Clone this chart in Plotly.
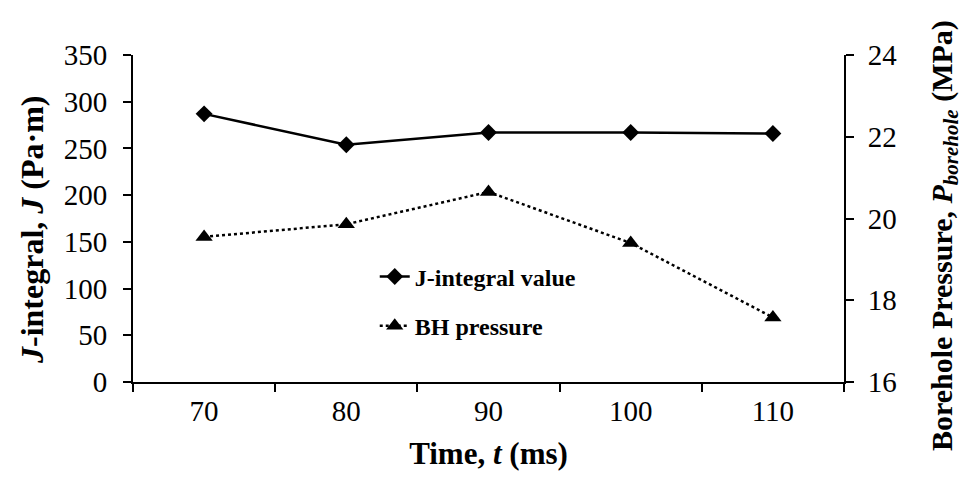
import plotly.graph_objects as go

time_ms = ["70", "80", "90", "100", "110"]
j_integral = [287, 254, 267, 267, 266]
bh_pressure = [19.55, 19.86, 20.65, 19.40, 17.58]

left_ticks = [0, 50, 100, 150, 200, 250, 300, 350]
right_ticks = [16, 18, 20, 22, 24]

left_title = "<b><i>J</i>-integral, <i>J</i> (Pa·m)</b>"
right_title = "<b>Borehole Pressure, <i>P</i><sub><i>borehole</i></sub> (MPa)</b>"
x_title = "Time, <i>t</i> (ms)"

FONT = "Liberation Serif"

fig = go.Figure()
fig.add_trace(go.Scatter(
    x=time_ms, y=j_integral, name="J-integral value", legendgroup="a",
    mode="lines+markers",
    line=dict(color="black", width=2.5),
    marker=dict(symbol="diamond", size=13, color="black"),
))
fig.add_trace(go.Scatter(
    x=time_ms, y=bh_pressure, name="BH pressure", legendgroup="b",
    mode="lines+markers", yaxis="y2",
    line=dict(color="black", width=2.5, dash="dot"),
    marker=dict(symbol="triangle-up", size=15, color="black"),
))

fig.update_layout(
    width=961, height=470,
    margin=dict(l=125, r=125, t=47, b=96),
    paper_bgcolor="white", plot_bgcolor="white",
    font=dict(family=FONT, size=28, color="black"),
    showlegend=True,
    legend=dict(
        x=0.34, y=0.39, xanchor="left", yanchor="top",
        bgcolor="rgba(0,0,0,0)",
        font=dict(family=FONT, size=24, color="black", weight="bold"),
        traceorder="grouped", tracegroupgap=15, itemwidth=30,
    ),
    xaxis=dict(
        type="category", tickson="boundaries", automargin=False,
        range=[-0.5, 4.5],
        showline=True, linecolor="black", linewidth=2,
        ticks="outside", ticklen=8, tickwidth=2, tickcolor="black",
        showgrid=False, zeroline=False,
        tickfont=dict(family=FONT, size=29), ticklabelstandoff=2,
        title=dict(text=x_title, standoff=17,
                   font=dict(family=FONT, size=31, weight="bold")),
    ),
    yaxis=dict(
        range=[0, 350], tickvals=left_ticks, automargin=False,
        showline=True, linecolor="black", linewidth=2,
        ticks="outside", ticklen=8, tickwidth=2, tickcolor="black",
        showgrid=False, zeroline=False,
        tickfont=dict(family=FONT, size=29), ticklabelstandoff=10,
    ),
    yaxis2=dict(
        range=[16, 24], tickvals=right_ticks, automargin=False,
        overlaying="y", side="right",
        showline=True, linecolor="black", linewidth=2,
        ticks="outside", ticklen=8, tickwidth=2, tickcolor="black",
        showgrid=False, zeroline=False,
        tickfont=dict(family=FONT, size=29), ticklabelstandoff=8,
    ),
    annotations=[
        dict(text=left_title, textangle=-90, xref="paper", yref="paper",
             x=(24 - 125) / 711, y=(374 - 222) / 327, xanchor="center", yanchor="middle",
             showarrow=False, font=dict(family=FONT, size=32, color="black")),
        dict(text=right_title, textangle=-90, xref="paper", yref="paper",
             x=(936 - 125) / 711, y=(374 - 227) / 327, xanchor="center", yanchor="middle",
             showarrow=False, font=dict(family=FONT, size=30, color="black")),
    ],
)

fig.write_html("out.html")
